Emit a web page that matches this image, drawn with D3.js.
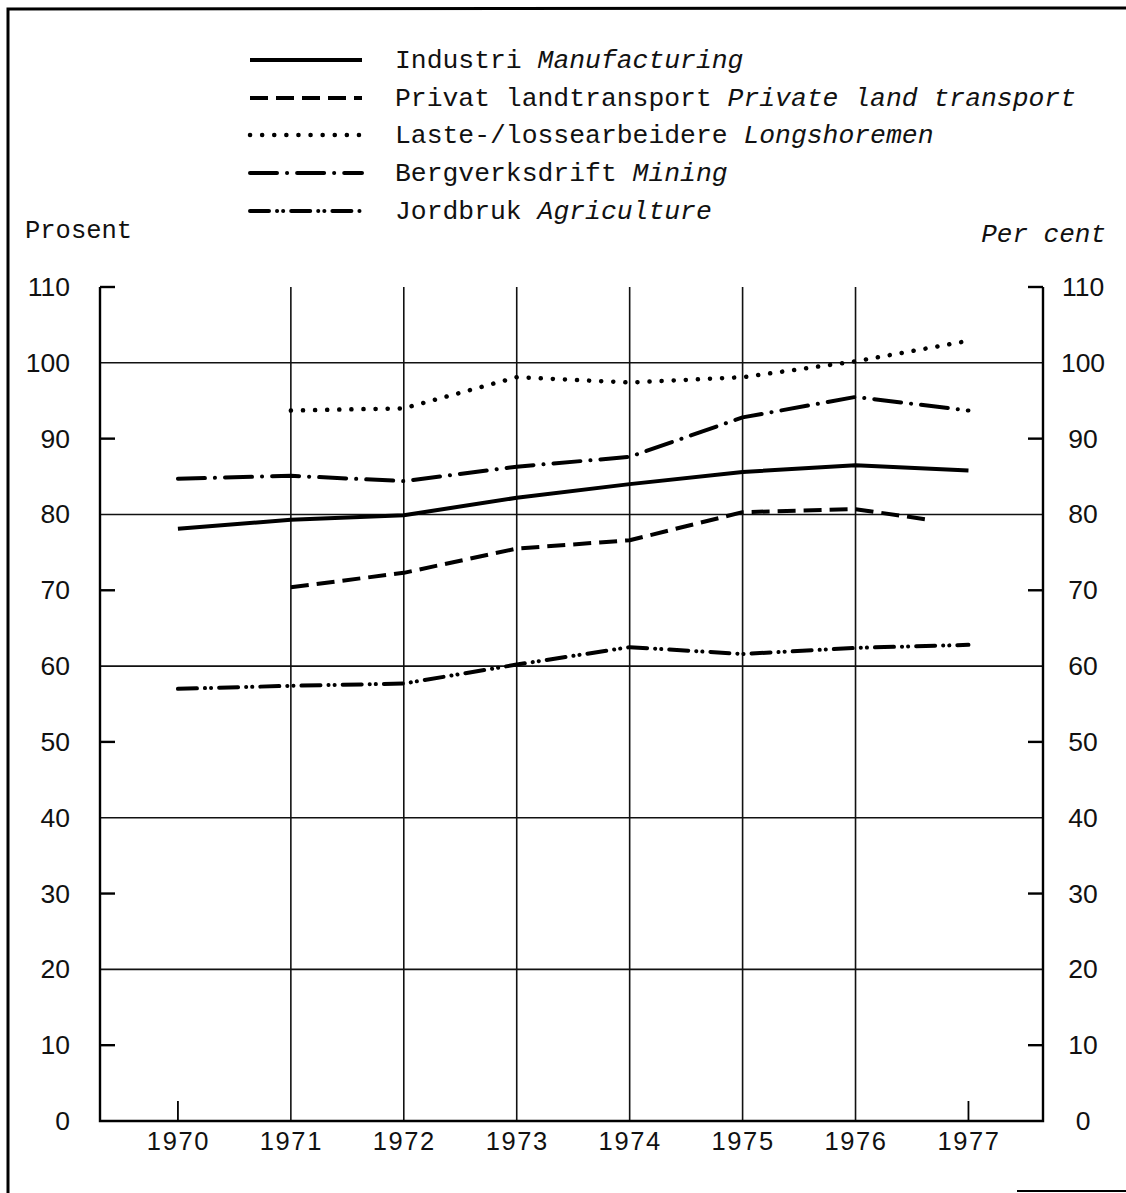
<!DOCTYPE html>
<html>
<head>
<meta charset="utf-8">
<script src="https://cdn.jsdelivr.net/npm/d3@7"></script>
<style>
  html, body { margin: 0; padding: 0; background: #fff; }
  svg { display: block; }
</style>
</head>
<body>
<svg id="chart" width="1126" height="1193"></svg>
<script>
// ---- Data ----
const years = [1970, 1971, 1972, 1973, 1974, 1975, 1976, 1977];
const industri = [78.1, 79.3, 79.9, 82.2, 84.0, 85.6, 86.5, 85.8];
const privatYears = [1971, 1972, 1973, 1974, 1975, 1976, 1976.65];
const privat = [70.4, 72.3, 75.5, 76.6, 80.3, 80.7, 79.3];
const lasteYears = [1971, 1972, 1973, 1974, 1975, 1976, 1977];
const laste = [93.7, 94.0, 98.1, 97.4, 98.1, 100.2, 102.9];
const bergverk = [84.7, 85.1, 84.4, 86.3, 87.6, 92.8, 95.5, 93.7];
const jordbruk = [57.0, 57.4, 57.7, 60.2, 62.5, 61.6, 62.4, 62.8];

const yTicks = [0, 10, 20, 30, 40, 50, 60, 70, 80, 90, 100, 110];
const yGridValues = [20, 40, 60, 80, 100];
const yShortTicks = [10, 30, 50, 70, 90, 110];
const xGridYears = [1971, 1972, 1973, 1974, 1975, 1976];
const xShortTickYears = [1970, 1977];

const legendItems = [
  { no: "Industri", en: "Manufacturing", dash: null, width: 4, cap: "butt" },
  { no: "Privat landtransport", en: "Private land transport", dash: "18 8", width: 4, cap: "butt" },
  { no: "Laste-/lossearbeidere", en: "Longshoremen", dash: "0.1 12", width: 4.5, cap: "round" },
  { no: "Bergverksdrift", en: "Mining", dash: "27 10 0.1 10", width: 4, cap: "round" },
  { no: "Jordbruk", en: "Agriculture", dash: "19 8 0.1 6 0.1 8", width: 4, cap: "round" }
];

// ---- Layout ----
(function () {
const svg = d3.select("#chart");
const W = 1126, H = 1193;
const pLeft = 100, pRight = 1043, pTop = 287, pBottom = 1121;

const x = d3.scaleLinear().domain([1969.31, 1977.66]).range([pLeft, pRight]);
const y = d3.scaleLinear().domain([0, 110]).range([pBottom, pTop]);

const monoFont = "'Liberation Mono', 'DejaVu Sans Mono', monospace";
const sansFont = "'Liberation Sans', Arial, sans-serif";

// Frame
svg.append("path")
  .attr("d", `M8,${H} L8,9 L${W},8`)
  .attr("fill", "none").attr("stroke", "#000").attr("stroke-width", 3);
svg.append("line")
  .attr("x1", 1017).attr("x2", W).attr("y1", 1191).attr("y2", 1191)
  .attr("stroke", "#000").attr("stroke-width", 2);

// Grid
const g = svg.append("g");
g.selectAll(".hgrid").data(yGridValues).join("line")
  .attr("x1", pLeft).attr("x2", pRight)
  .attr("y1", d => y(d)).attr("y2", d => y(d))
  .attr("stroke", "#111").attr("stroke-width", 1.6);
g.selectAll(".vgrid").data(xGridYears).join("line")
  .attr("x1", d => x(d)).attr("x2", d => x(d))
  .attr("y1", y(110)).attr("y2", pBottom)
  .attr("stroke", "#111").attr("stroke-width", 1.6);
g.selectAll(".ltick").data(yShortTicks).join("line")
  .attr("x1", pLeft).attr("x2", pLeft + 15)
  .attr("y1", d => y(d)).attr("y2", d => y(d))
  .attr("stroke", "#000").attr("stroke-width", 2.4);
g.selectAll(".rtick").data(yShortTicks).join("line")
  .attr("x1", pRight - 15).attr("x2", pRight)
  .attr("y1", d => y(d)).attr("y2", d => y(d))
  .attr("stroke", "#000").attr("stroke-width", 2.4);
g.selectAll(".btick").data(xShortTickYears).join("line")
  .attr("x1", d => x(d)).attr("x2", d => x(d))
  .attr("y1", pBottom - 20).attr("y2", pBottom)
  .attr("stroke", "#000").attr("stroke-width", 1.8);

g.append("path")
  .attr("d", `M${pLeft},${y(110)} L${pLeft},${pBottom} L${pRight},${pBottom} L${pRight},${y(110)}`)
  .attr("fill", "none").attr("stroke", "#000").attr("stroke-width", 2.4);

// Axis labels via d3 axes
const axL = svg.append("g").attr("transform", `translate(${pLeft},0)`)
  .call(d3.axisLeft(y).tickValues(yTicks).tickSize(0).tickPadding(30).tickFormat(d3.format("d")));
const axR = svg.append("g").attr("transform", `translate(${pRight},0)`)
  .call(d3.axisRight(y).tickValues(yTicks).tickSize(0).tickPadding(40).tickFormat(d3.format("d")));
axR.selectAll("text").attr("text-anchor", "middle");
const axB = svg.append("g").attr("transform", `translate(0,${pBottom})`)
  .call(d3.axisBottom(x).tickValues(years).tickSize(0).tickPadding(11).tickFormat(d3.format("d")));
[axL, axR, axB].forEach(a => {
  a.select(".domain").remove();
  a.selectAll("text").attr("font-family", sansFont).attr("font-size", 26.5).attr("fill", "#111");
});
axB.selectAll("text").attr("font-size", 25.5).attr("letter-spacing", 1.6);

// Titles
svg.append("text").attr("x", 25).attr("y", 238)
  .attr("font-family", monoFont).attr("font-size", 25.5).attr("fill", "#111")
  .text("Prosent");
svg.append("text").attr("x", 1106).attr("y", 242).attr("text-anchor", "end")
  .attr("font-family", monoFont).attr("font-style", "italic").attr("font-size", 26).attr("fill", "#111")
  .text("Per cent");

// Series
const line = d3.line().x(d => x(d[0])).y(d => y(d[1]));
const series = [
  { xs: years, ys: industri, item: legendItems[0] },
  { xs: privatYears, ys: privat, item: legendItems[1] },
  { xs: lasteYears, ys: laste, item: legendItems[2] },
  { xs: years, ys: bergverk, item: legendItems[3] },
  { xs: years, ys: jordbruk, item: legendItems[4] }
];
series.forEach(s => {
  const pts = s.xs.map((xv, i) => [xv, s.ys[i]]);
  svg.append("path").datum(pts)
    .attr("d", line)
    .attr("fill", "none")
    .attr("stroke", "#000")
    .attr("stroke-width", s.item.width)
    .attr("stroke-linecap", s.item.cap)
    .attr("stroke-linejoin", "round")
    .attr("stroke-dasharray", s.item.dash);
});

// Legend
const legY = [60, 98, 135, 173, 211];
const leg = svg.append("g");
legendItems.forEach((it, i) => {
  leg.append("line")
    .attr("x1", 250).attr("x2", 362)
    .attr("y1", legY[i]).attr("y2", legY[i])
    .attr("stroke", "#000").attr("stroke-width", it.width)
    .attr("stroke-linecap", it.cap)
    .attr("stroke-dasharray", it.dash);
  const t = leg.append("text").attr("x", 395).attr("y", legY[i] + 8)
    .attr("font-family", monoFont).attr("font-size", 26.4).attr("fill", "#111")
    .attr("xml:space", "preserve");
  t.append("tspan").text(it.no + " ");
  t.append("tspan").attr("font-style", "italic").text(it.en);
});
})();
</script>
</body>
</html>
